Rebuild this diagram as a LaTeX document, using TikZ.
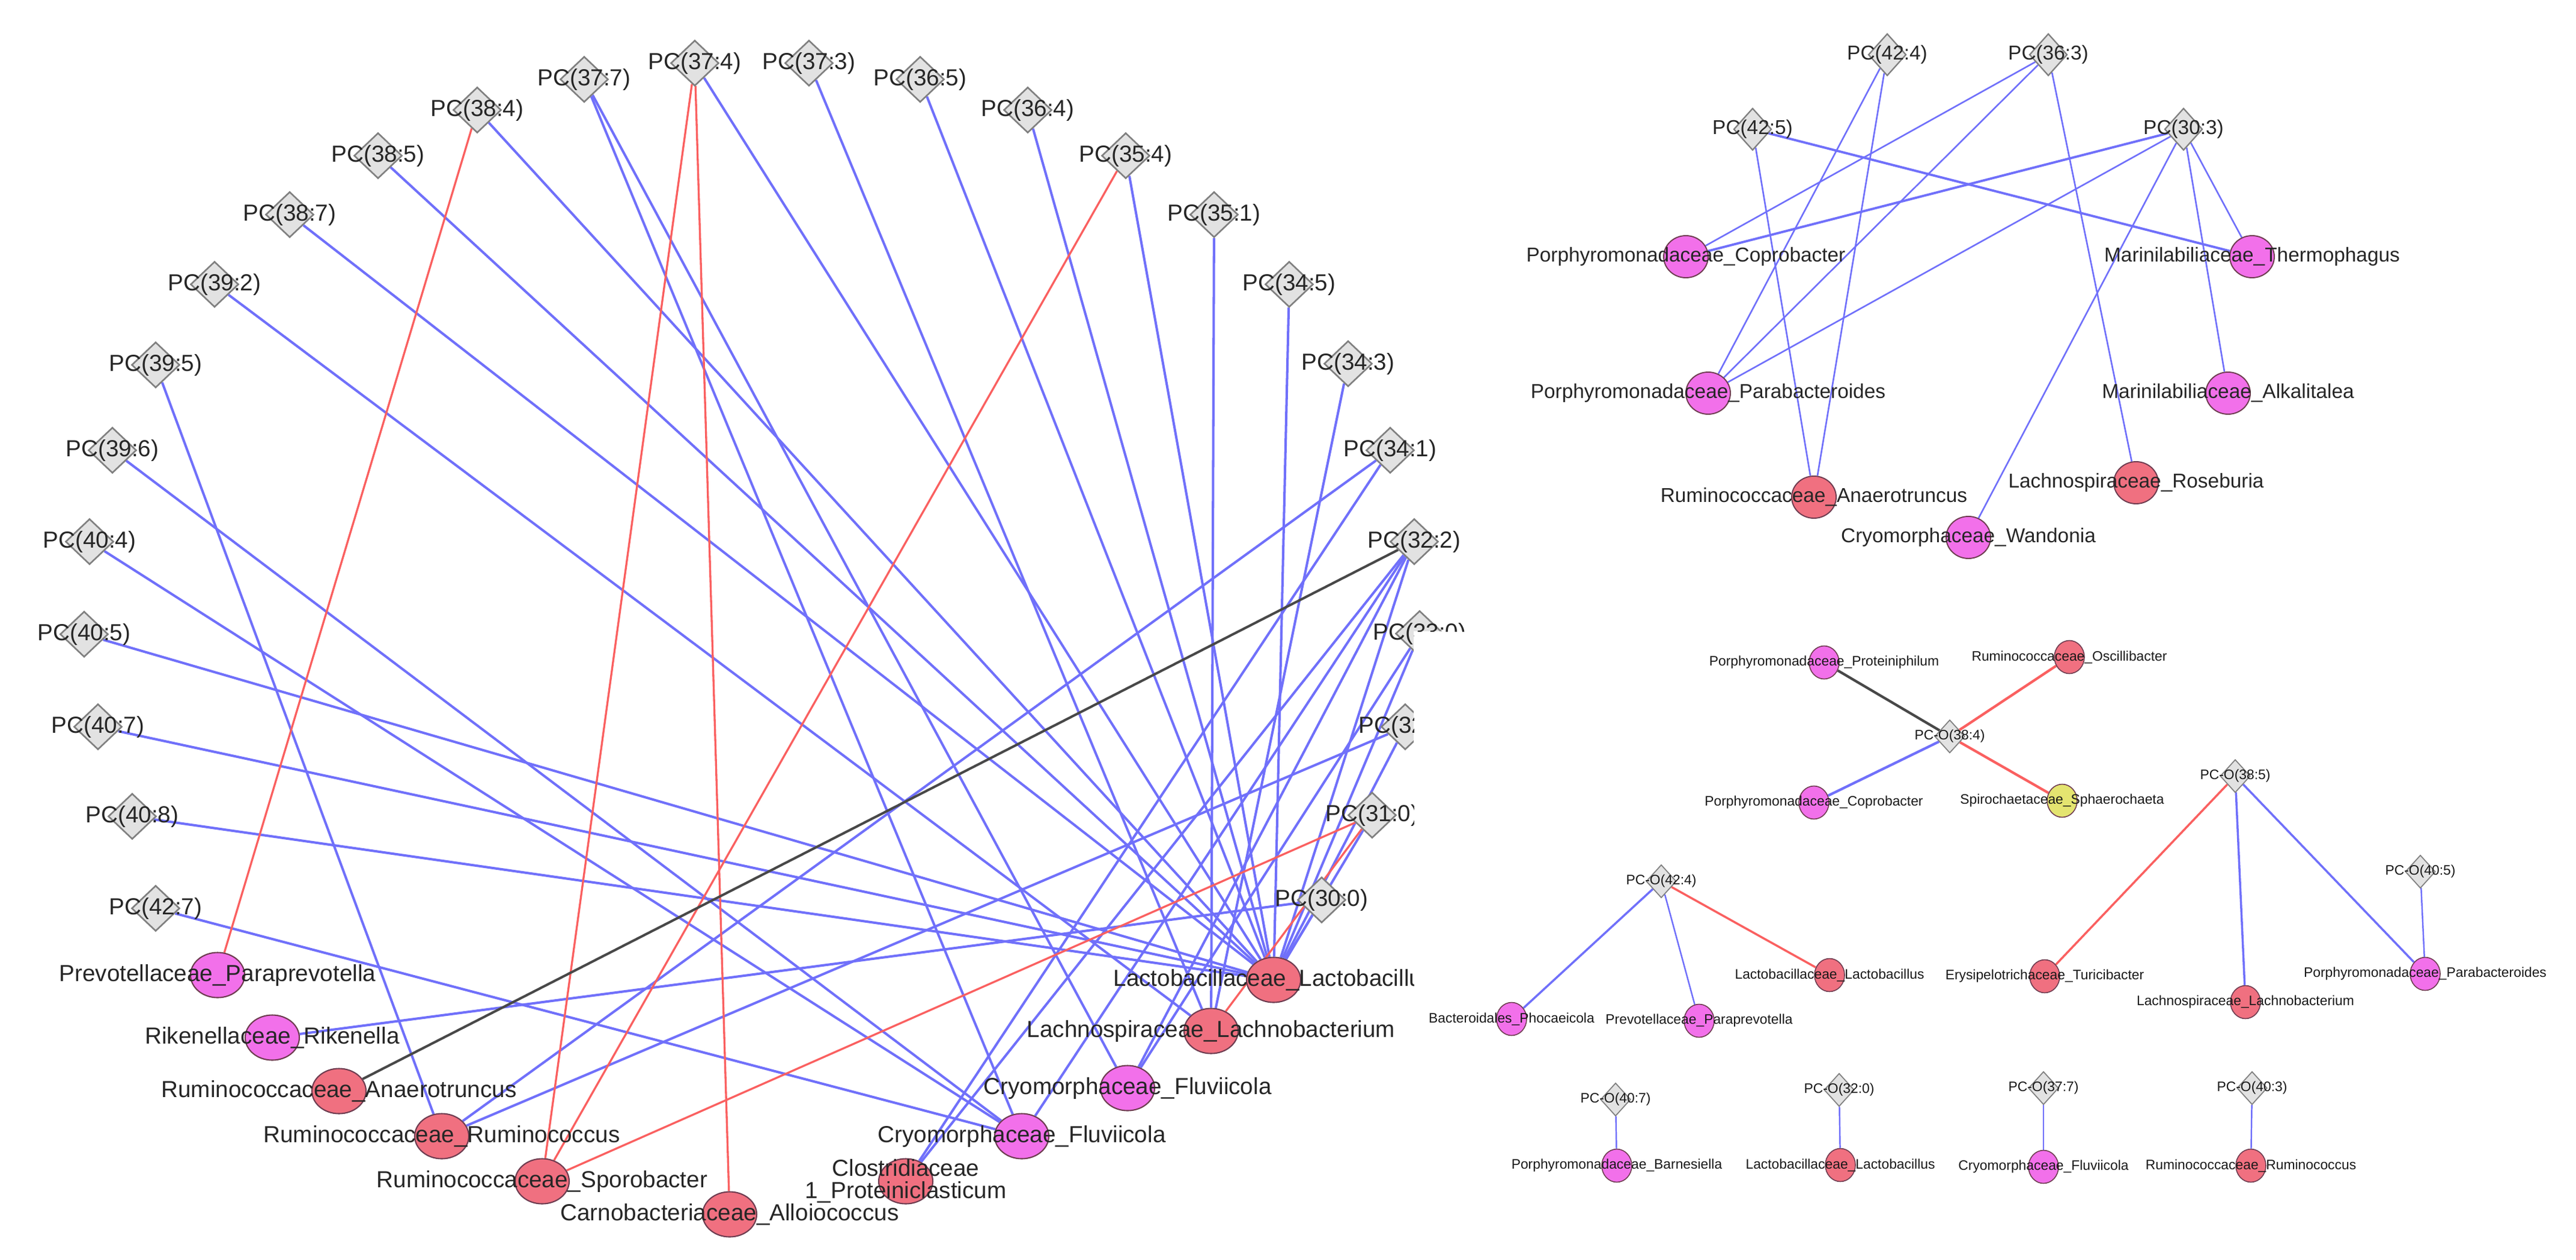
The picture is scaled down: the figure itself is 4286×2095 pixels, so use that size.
\documentclass[tikz,border=0pt]{standalone}
\usepackage{fontspec}
\setmainfont{Liberation Sans}
\usetikzlibrary{shapes.geometric, backgrounds}
\definecolor{bugpink}{RGB}{242,112,234}
\definecolor{bugred}{RGB}{240,112,128}
\definecolor{bugyellow}{RGB}{228,228,112}
\definecolor{bugline}{RGB}{110,60,80}
\definecolor{pcfill}{RGB}{226,226,226}
\definecolor{pcline}{RGB}{128,128,128}
\definecolor{posblue}{RGB}{112,112,250}
\definecolor{negred}{RGB}{250,96,96}
\definecolor{zerogrey}{RGB}{72,72,72}

\begin{document}
\begin{tikzpicture}[x=0.2mm, y=-0.2mm,
    biglab/.style={font=\fontsize{22}{21}\selectfont, text=black!85, inner sep=0pt, align=center},
    midlab/.style={font=\fontsize{19}{20}\selectfont, text=black!85, inner sep=0pt},
    smalllab/.style={font=\fontsize{13}{14}\selectfont, text=black!90, inner sep=0pt},
    bigpc/.style={diamond, draw=pcline, fill=pcfill, line width=1.5pt, inner sep=0pt,
        minimum width=16mm, minimum height=15.2mm, label={[biglab]center:#1}},
    midpc/.style={diamond, draw=pcline, fill=pcfill, line width=1.3pt, inner sep=0pt,
        minimum width=12.6mm, minimum height=14mm, label={[midlab]center:#1}},
    smallpc/.style={diamond, draw=pcline, fill=pcfill, line width=1pt, inner sep=0pt,
        minimum width=10mm, minimum height=11mm, label={[smalllab]center:#1}},
    bigbug/.style 2 args={ellipse, draw=bugline, fill=#1, line width=1.2pt, inner sep=0pt,
        minimum width=18mm, minimum height=15mm, label={[biglab]center:#2}},
    midbug/.style 2 args={ellipse, draw=bugline, fill=#1, line width=1.1pt, inner sep=0pt,
        minimum width=14.8mm, minimum height=14mm, label={[midlab]center:#2}},
    smallbug/.style 2 args={ellipse, draw=bugline, fill=#1, line width=0.9pt, inner sep=0pt,
        minimum width=10mm, minimum height=11mm, label={[smalllab]center:#2}},
    pline/.style={draw=posblue, line width=2.3pt},
    nline/.style={draw=negred, line width=1.9pt},
    zline/.style={draw=zerogrey, line width=2.3pt},
  ]
\useasboundingbox (0,0) rectangle (4286,2095);

% left network, cut off on its right side
\begin{scope}
  \clip (0,0) -- (2445,0) -- (2445,1050) -- (2352,1050) -- (2352,2095) -- (0,2095) -- cycle;
  \node[bigpc=PC(38:4)] (p384) at (794,183) {};
  \node[bigpc=PC(38:5)] (p385) at (629,259) {};
  \node[bigpc=PC(38:7)] (p387) at (482,357) {};
  \node[bigpc=PC(39:2)] (p392) at (357,473) {};
  \node[bigpc=PC(39:5)] (p395) at (259,607) {};
  \node[bigpc=PC(39:6)] (p396) at (187,749) {};
  \node[bigpc=PC(40:4)] (p404) at (149,901) {};
  \node[bigpc=PC(40:5)] (p405) at (140,1055) {};
  \node[bigpc=PC(40:7)] (p407) at (163,1209) {};
  \node[bigpc=PC(40:8)] (p408) at (220,1358) {};
  \node[bigpc=PC(42:7)] (p427) at (259,1511) {};
  \node[bigpc=PC(37:7)] (p377) at (972,132) {};
  \node[bigpc=PC(37:4)] (p374) at (1156,105) {};
  \node[bigpc=PC(37:3)] (p373) at (1346,105) {};
  \node[bigpc=PC(36:5)] (p365) at (1531,132) {};
  \node[bigpc=PC(36:4)] (p364) at (1710,183) {};
  \node[bigpc=PC(35:4)] (p354) at (1873,259) {};
  \node[bigpc=PC(35:1)] (p351) at (2020,357) {};
  \node[bigpc=PC(34:5)] (p345) at (2145,473) {};
  \node[bigpc=PC(34:3)] (p343) at (2243,605) {};
  \node[bigpc=PC(34:1)] (p341) at (2313,749) {};
  \node[bigpc=PC(32:2)] (p322) at (2353,901) {};
  \node[bigpc=PC(33:0)] (p330) at (2362,1054) {};
  \node[bigpc=PC(32:0)] (p320) at (2338,1209) {};
  \node[bigpc=PC(31:0)] (p310) at (2283,1356) {};
  \node[bigpc=PC(30:0)] (p300) at (2199,1497) {};

  \node[bigbug={bugpink}{Prevotellaceae\_Paraprevotella}] (prev) at (362,1622) {};
  \node[bigbug={bugpink}{Rikenellaceae\_Rikenella}] (rike) at (453,1726) {};
  \node[bigbug={bugred}{Ruminococcaceae\_Anaerotruncus}] (anae) at (564,1815) {};
  \node[bigbug={bugred}{Ruminococcaceae\_Ruminococcus}] (rumi) at (735,1890) {};
  \node[bigbug={bugred}{Ruminococcaceae\_Sporobacter}] (spor) at (902,1965) {};
  \node[bigbug={bugred}{Carnobacteriaceae\_Alloiococcus}] (carn) at (1214,2020) {};
  \node[bigbug={bugred}{Clostridiaceae\\1\_Proteiniclasticum}] (clos) at (1507,1965) {};
  \node[bigbug={bugpink}{Cryomorphaceae\_Fluviicola}] (fluva) at (1700,1890) {};
  \node[bigbug={bugpink}{Cryomorphaceae\_Fluviicola}] (fluvb) at (1876,1810) {};
  \node[bigbug={bugred}{Lachnospiraceae\_Lachnobacterium}] (lach) at (2015,1715) {};
  \node[bigbug={bugred}{Lactobacillaceae\_Lactobacillus}] (lact) at (2119,1630) {};
\end{scope}

% upper right network
\node[midpc=PC(42:4)] (q424) at (3140,91) {};
\node[midpc=PC(36:3)] (q363) at (3408,91) {};
\node[midpc=PC(42:5)] (q425) at (2916,215) {};
\node[midpc=PC(30:3)] (q303) at (3633,215) {};
\node[midbug={bugpink}{Porphyromonadaceae\_Coprobacter}] (tcopr) at (2805,427) {};
\node[midbug={bugpink}{Marinilabiliaceae\_Thermophagus}] (tther) at (3747,427) {};
\node[midbug={bugpink}{Porphyromonadaceae\_Parabacteroides}] (tpara) at (2842,654) {};
\node[midbug={bugpink}{Marinilabiliaceae\_Alkalitalea}] (talka) at (3707,654) {};
\node[midbug={bugred}{Ruminococcaceae\_Anaerotruncus}] (tanae) at (3018,827) {};
\node[midbug={bugred}{Lachnospiraceae\_Roseburia}] (trose) at (3554,803) {};
\node[midbug={bugpink}{Cryomorphaceae\_Wandonia}] (twand) at (3275,894) {};

% lower right networks
\node[smallpc=PC-O(38:4)] (r384) at (3244,1225) {};
\node[smallbug={bugpink}{Porphyromonadaceae\_Proteiniphilum}] (bprot) at (3035,1102) {};
\node[smallbug={bugred}{Ruminococcaceae\_Oscillibacter}] (bosci) at (3443,1093) {};
\node[smallbug={bugpink}{Porphyromonadaceae\_Coprobacter}] (bcopr) at (3018,1335) {};
\node[smallbug={bugyellow}{Spirochaetaceae\_Sphaerochaeta}] (bspha) at (3431,1332) {};
\node[smallpc=PC-O(38:5)] (r385) at (3719,1291) {};
\node[smallpc=PC-O(40:5)] (r405) at (4027,1450) {};
\node[smallpc=PC-O(42:4)] (r424) at (2764,1466) {};
\node[smallbug={bugred}{Lactobacillaceae\_Lactobacillus}] (blact) at (3044,1622) {};
\node[smallbug={bugred}{Erysipelotrichaceae\_Turicibacter}] (bturi) at (3402,1624) {};
\node[smallbug={bugpink}{Porphyromonadaceae\_Parabacteroides}] (bpara) at (4035,1620) {};
\node[smallbug={bugred}{Lachnospiraceae\_Lachnobacterium}] (blach) at (3736,1667) {};
\node[smallbug={bugpink}{Bacteroidales\_Phocaeicola}] (bphoc) at (2515,1695) {};
\node[smallbug={bugpink}{Prevotellaceae\_Paraprevotella}] (bprev) at (2827,1698) {};
\node[smallpc=PC-O(40:7)] (r407) at (2688,1829) {};
\node[smallbug={bugpink}{Porphyromonadaceae\_Barnesiella}] (bbarn) at (2690,1939) {};
\node[smallpc=PC-O(32:0)] (r320) at (3060,1813) {};
\node[smallbug={bugred}{Lactobacillaceae\_Lactobacillus}] (blact2) at (3062,1938) {};
\node[smallpc=PC-O(37:7)] (r377) at (3400,1810) {};
\node[smallbug={bugpink}{Cryomorphaceae\_Fluviicola}] (bfluv) at (3400,1941) {};
\node[smallpc=PC-O(40:3)] (r403) at (3747,1810) {};
\node[smallbug={bugred}{Ruminococcaceae\_Ruminococcus}] (brumi) at (3745,1939) {};

\begin{scope}[on background layer]
  % left network
  \path[pline]
    (p384) edge (lact) (p385) edge (lact) (p387) edge (lact)
    (p392) edge (lach) (p395) edge (rumi)
    (p396) edge (fluva) (p404) edge (fluva)
    (p405) edge (lact) (p407) edge (lact) (p408) edge (lact)
    (p427) edge (fluva)
    (p377) edge (fluva) (p377) edge (fluvb)
    (p374) edge (lact) (p373) edge (lach)
    (p365) edge (lact) (p364) edge (lact) (p354) edge (lact)
    (p351) edge (lach) (p345) edge (lact) (p343) edge (lach)
    (p341) edge (rumi) (p341) edge (clos)
    (p322) edge (clos) (p322) edge (fluva) (p322) edge (fluvb) (p322) edge (lact)
    (p330) edge (lact) (p330) edge (fluvb)
    (p320) edge (rumi) (p320) edge (lact)
    (p310) edge (lact)
    (p300) edge (rike) (p300) edge (lact);
  \path[nline]
    (p384) edge (prev)
    (p374) edge (spor) (p374) edge (carn)
    (p354) edge (spor)
    (p310) edge (spor) (p310) edge (lach);
  \path[zline] (p322) edge (anae);

  % upper right network
  \path[pline, line width=1.5pt]
    (q424) edge (tpara) (q424) edge (tanae)
    (q363) edge (tcopr) (q363) edge (tpara) (q363) edge (trose)
    (q425) edge (tanae)
    (q303) edge (tpara) (q303) edge (twand) (q303) edge (tther) (q303) edge (talka);
  \path[pline, line width=2.2pt]
    (q425) edge (tther) (q303) edge (tcopr);

  % lower right networks
  \path[zline, line width=2.4pt] (r384) edge (bprot);
  \path[nline, line width=2.4pt] (r384) edge (bosci) (r384) edge (bspha);
  \path[pline, line width=2.4pt] (r384) edge (bcopr);
  \path[nline, line width=2pt] (r385) edge (bturi) (r424) edge (blact);
  \path[pline, line width=2pt] (r385) edge (blach) (r385) edge (bpara) (r424) edge (bphoc);
  \path[pline, line width=1.4pt]
    (r405) edge (bpara) (r424) edge (bprev)
    (r407) edge (bbarn) (r320) edge (blact2)
    (r377) edge (bfluv) (r403) edge (brumi);
\end{scope}
\end{tikzpicture}
\end{document}
